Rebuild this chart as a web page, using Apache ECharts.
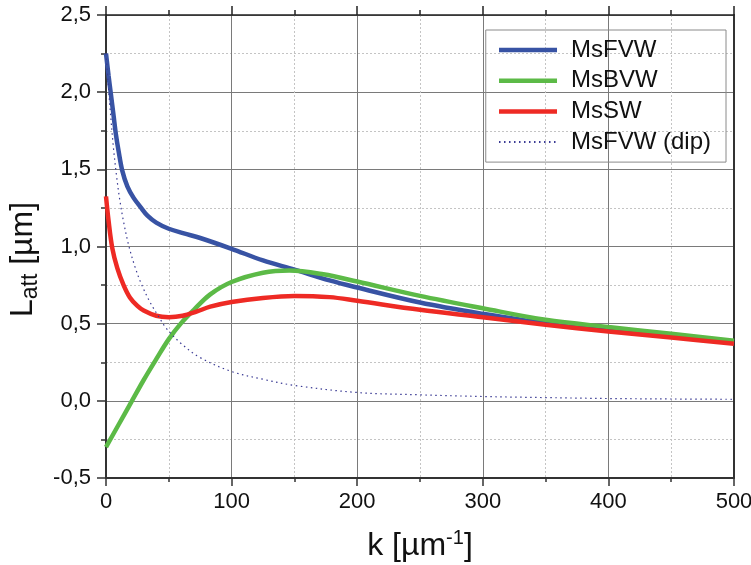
<!DOCTYPE html>
<html>
<head>
<meta charset="utf-8">
<script src="https://cdn.jsdelivr.net/npm/echarts@6/dist/echarts.min.js"></script>
<style>
  html, body { margin: 0; padding: 0; background: #fff; }
  #chart { width: 751px; height: 565px; }
</style>
</head>
<body>
<div id="chart"></div>
<script>
// Attenuation length L_att [µm] versus wave number k [µm^-1]
const kFVW = [0, 2, 4, 6, 8, 10, 13, 17, 22, 28, 33, 40, 50, 62, 75, 100, 125, 150, 178, 200, 250, 300, 350, 400, 450, 500];
const latFVW = [2.25, 2.11, 1.98, 1.85, 1.72, 1.62, 1.49, 1.39, 1.315, 1.25, 1.20, 1.155, 1.115, 1.085, 1.055, 0.985, 0.91, 0.85, 0.78, 0.734, 0.637, 0.564, 0.503, 0.465, 0.425, 0.385];

const kBVW = [0, 10, 20, 30, 40, 50, 60, 70, 83, 100, 125, 146, 173, 200, 250, 300, 350, 400, 450, 500];
const latBVW = [-0.30, -0.155, -0.01, 0.135, 0.27, 0.40, 0.505, 0.59, 0.69, 0.77, 0.83, 0.845, 0.82, 0.773, 0.68, 0.60, 0.525, 0.478, 0.435, 0.39];

const kSW = [0, 2, 5, 9, 14, 19, 25, 30, 40, 50, 61, 72, 83, 100, 125, 150, 178, 200, 250, 300, 350, 400, 450, 500];
const latSW = [1.325, 1.17, 0.99, 0.86, 0.75, 0.67, 0.615, 0.585, 0.551, 0.542, 0.551, 0.578, 0.61, 0.64, 0.667, 0.68, 0.672, 0.648, 0.59, 0.542, 0.4925, 0.449, 0.41, 0.37];

const kDip = [0, 1.5, 3.2, 5.8, 8.5, 11, 14, 18, 23, 28, 35, 42, 48, 60, 75, 100, 125, 150, 200, 250, 300, 350, 400, 450, 500];
const latDip = [2.25, 2.08, 1.90, 1.65, 1.45, 1.30, 1.16, 1.01, 0.87, 0.76, 0.64, 0.545, 0.47, 0.37, 0.28, 0.19, 0.14, 0.10, 0.054, 0.039, 0.028, 0.021, 0.015, 0.012, 0.01];

const seriesNames = ['MsFVW', 'MsBVW', 'MsSW', 'MsFVW (dip)'];

const pairs = (xs, ys) => xs.map((x, i) => [x, ys[i]]);
const FONT = '"Liberation Sans", Arial, sans-serif';
const comma = v => v.toFixed(1).replace('.', ',');

const chart = echarts.init(document.getElementById('chart'), null, { renderer: 'canvas' });

const gridLine = { show: true, lineStyle: { color: '#7a7a7a', width: 1 } };
const minorLine = { show: true, lineStyle: { color: '#c4c4c4', width: 1, type: [2, 2] } };
const thick = { width: 4.5 };

chart.setOption({
  animation: false,
  backgroundColor: '#fff',
  grid: { left: 106, right: 17, top: 15, bottom: 87, containLabel: false, outerBoundsMode: 'none' },
  legend: {
    right: 25, top: 30,
    orient: 'vertical',
    borderColor: '#8a8a8a', borderWidth: 1,
    padding: [7, 15, 7, 11],
    itemWidth: 58, itemHeight: 14, itemGap: 4.7,
    itemStyle: { opacity: 0 },
    textStyle: { fontFamily: FONT, fontSize: 24, color: '#111', lineHeight: 26, padding: [0, 0, 0, 9] },
    data: [
      { name: seriesNames[0], lineStyle: thick },
      { name: seriesNames[1], lineStyle: thick },
      { name: seriesNames[2], lineStyle: thick },
      { name: seriesNames[3] }
    ]
  },
  xAxis: [{
    type: 'value', min: 0, max: 500, interval: 100,
    name: '{m|k [µm}{p|-1}{m|]}',
    nameLocation: 'middle', nameGap: 50,
    nameTextStyle: {
      rich: {
        m: { fontFamily: FONT, fontSize: 32, color: '#111' },
        p: { fontFamily: FONT, fontSize: 20, color: '#111', padding: [0, 0, 16, 0] }
      }
    },
    axisLine: { show: true, onZero: false, lineStyle: { color: '#333', width: 2 } },
    axisTick: { show: true, length: 8, lineStyle: { color: '#333', width: 1.5 } },
    minorTick: { show: true, splitNumber: 2, length: 4, lineStyle: { color: '#333', width: 1.5 } },
    axisLabel: { fontFamily: FONT, fontSize: 22, color: '#111', margin: 13 },
    splitLine: gridLine,
    minorSplitLine: minorLine
  }, {
    type: 'value', min: 0, max: 500, interval: 100, position: 'top',
    axisLine: { show: true, onZero: false, lineStyle: { color: '#222', width: 1.5 } },
    axisTick: { show: true, length: 9, lineStyle: { color: '#222', width: 1.5 } },
    minorTick: { show: true, splitNumber: 2, length: 5, lineStyle: { color: '#222', width: 1.5 } },
    axisLabel: { show: false },
    splitLine: { show: false }
  }],
  yAxis: [{
    type: 'value', min: -0.5, max: 2.5, interval: 0.5,
    name: '{m|L}{s|att}{m| [µm]}',
    nameLocation: 'middle', nameGap: 60,
    nameTextStyle: {
      padding: [0, 26, 0, 0],
      rich: {
        m: { fontFamily: FONT, fontSize: 32, color: '#111' },
        s: { fontFamily: FONT, fontSize: 23, color: '#111', padding: [16, 0, 0, 0] }
      }
    },
    axisLine: { show: true, onZero: false, lineStyle: { color: '#333', width: 2 } },
    axisTick: { show: true, length: 9, lineStyle: { color: '#333', width: 1.5 } },
    minorTick: { show: true, splitNumber: 2, length: 5, lineStyle: { color: '#333', width: 1.5 } },
    axisLabel: { fontFamily: FONT, fontSize: 22, color: '#111', margin: 15, formatter: comma },
    splitLine: gridLine,
    minorSplitLine: minorLine
  }, {
    type: 'value', min: -0.5, max: 2.5, interval: 0.5, position: 'right',
    axisLine: { show: true, onZero: false, lineStyle: { color: '#333', width: 2 } },
    axisTick: { show: false },
    axisLabel: { show: false },
    splitLine: { show: false }
  }],
  series: [
    {
      name: seriesNames[0], type: 'line', data: pairs(kFVW, latFVW),
      smooth: 0.35, symbol: 'none', clip: true,
      lineStyle: { color: '#3853a4', width: 4.5 }, itemStyle: { color: '#3853a4' }
    },
    {
      name: seriesNames[1], type: 'line', data: pairs(kBVW, latBVW),
      smooth: 0.35, symbol: 'none', clip: true,
      lineStyle: { color: '#5cba47', width: 4.5 }, itemStyle: { color: '#5cba47' }
    },
    {
      name: seriesNames[2], type: 'line', data: pairs(kSW, latSW),
      smooth: 0.35, symbol: 'none', clip: true,
      lineStyle: { color: '#ee2a24', width: 4.5 }, itemStyle: { color: '#ee2a24' }
    },
    {
      name: seriesNames[3], type: 'line', data: pairs(kDip, latDip),
      smooth: 0.35, symbol: 'none', clip: true,
      lineStyle: { color: '#3a3a94', width: 1.2, type: [1.5, 3.5] }, itemStyle: { color: '#3a3a94' }
    }
  ]
});
</script>
</body>
</html>
